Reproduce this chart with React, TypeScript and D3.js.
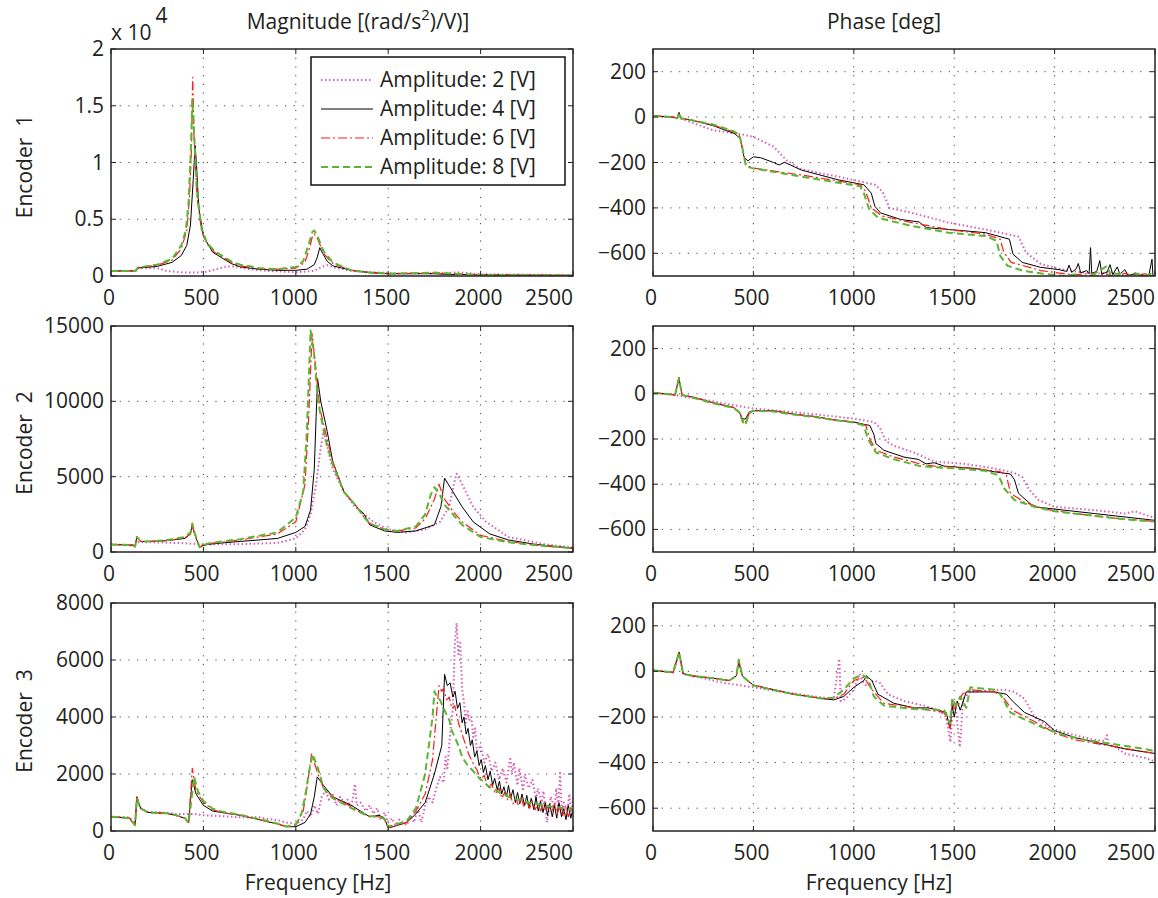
import React from 'react';
import * as d3 from 'd3';

type Pt = [number, number];

// ---------------- data ----------------
const LEGEND_LABELS = ['Amplitude: 2 [V]', 'Amplitude: 4 [V]', 'Amplitude: 6 [V]', 'Amplitude: 8 [V]'];
const X_TICKS = [0, 500, 1000, 1500, 2000, 2500];
const MAG1_TICKS = [0, 5000, 10000, 15000, 20000];
const MAG1_LABELS = ['0', '0.5', '1', '1.5', '2'];
const MAG2_TICKS = [0, 5000, 10000, 15000];
const MAG3_TICKS = [0, 2000, 4000, 6000, 8000];
const PHASE_TICKS = [-600, -400, -200, 0, 200];
const ROW_LABELS = ['Encoder  1', 'Encoder  2', 'Encoder  3'];

// Encoder 1 magnitude
const e1Mag2: Pt[] = [[0,450],[130,450],[140,700],[250,700],[300,450],[380,320],[450,300],[520,380],[580,650],[630,850],[680,820],[750,600],[850,450],[1000,330],[1100,450],[1140,800],[1170,950],[1210,750],[1300,450],[1500,250],[1750,250],[1880,320],[2000,160],[2500,80]];
const e1Mag4: Pt[] = [[0,450],[135,450],[145,700],[250,850],[330,1200],[380,1800],[410,2700],[430,4500],[445,8500],[455,11500],[462,10000],[475,6000],[500,3500],[550,2100],[600,1600],[650,1100],[700,800],[800,600],[900,500],[1000,500],[1060,600],[1100,1000],[1115,1600],[1130,2500],[1145,2000],[1170,1300],[1200,900],[1300,500],[1400,300],[1500,200],[1750,200],[1800,150],[2000,100],[2500,50]];
const e1Mag6: Pt[] = [[0,450],[135,450],[145,750],[250,950],[330,1400],[380,2400],[410,4000],[425,7000],[435,11000],[442,17500],[450,12000],[465,7000],[490,4000],[520,2800],[560,2100],[600,1700],[650,1200],[700,900],[800,650],[900,600],[1000,700],[1050,1200],[1075,2500],[1090,3500],[1100,3700],[1120,3200],[1150,2000],[1200,1100],[1300,500],[1400,300],[1500,200],[1750,250],[1850,200],[2000,100],[2500,50]];
const e1Mag8: Pt[] = [[0,450],[135,450],[145,750],[250,1000],[330,1500],[380,2700],[405,4000],[420,6500],[432,11000],[440,15500],[450,12500],[465,7500],[490,4200],[520,2900],[560,2200],[600,1800],[650,1300],[700,1000],[800,700],[900,600],[1000,800],[1040,1300],[1070,2800],[1090,3900],[1100,4000],[1120,3400],[1150,2200],[1200,1200],[1300,500],[1400,300],[1500,200],[1750,300],[1850,200],[2000,100],[2500,50]];

// Encoder 1 phase
const e1Ph2: Pt[] = [[0,5],[100,0],[150,-10],[300,-58],[435,-75],[500,-87],[600,-130],[665,-190],[738,-230],[921,-262],[1105,-298],[1142,-327],[1178,-400],[1289,-422],[1472,-465],[1656,-495],[1821,-527],[1857,-596],[1931,-647],[2023,-669],[2100,-680],[2200,-690],[2280,-684],[2350,-698],[2420,-690],[2500,-705]];
const e1Ph4: Pt[] = [[0,5],[100,0],[120,-5],[130,20],[140,-5],[200,-15],[300,-38],[407,-73],[435,-95],[453,-175],[472,-193],[500,-175],[536,-179],[600,-200],[628,-211],[655,-199],[738,-233],[921,-276],[1050,-298],[1087,-335],[1105,-393],[1133,-422],[1233,-451],[1325,-462],[1362,-487],[1472,-495],[1656,-509],[1775,-538],[1793,-604],[1839,-640],[1931,-662],[2023,-672],[2060,-680],[2072,-652],[2085,-684],[2108,-668],[2118,-645],[2130,-686],[2160,-676],[2172,-690],[2179,-575],[2185,-688],[2210,-680],[2225,-632],[2235,-692],[2262,-682],[2276,-650],[2290,-694],[2312,-660],[2325,-692],[2350,-672],[2365,-697],[2400,-690],[2440,-700],[2470,-694],[2485,-626],[2490,-700],[2500,-698]];
const e1Ph6: Pt[] = [[0,5],[100,0],[120,-5],[130,20],[140,-5],[200,-15],[300,-35],[400,-65],[430,-80],[444,-131],[463,-211],[500,-225],[738,-255],[1032,-298],[1059,-327],[1087,-400],[1142,-436],[1289,-465],[1472,-495],[1656,-516],[1729,-538],[1747,-596],[1784,-640],[1931,-676],[2023,-687],[2100,-695],[2150,-690],[2200,-702],[2250,-690],[2300,-703],[2350,-688],[2400,-700],[2450,-690],[2500,-702],[2520,-690]];
const e1Ph8: Pt[] = [[0,5],[100,0],[120,-5],[130,20],[140,-5],[200,-15],[300,-33],[400,-62],[430,-78],[444,-131],[463,-218],[500,-226],[738,-262],[1032,-305],[1050,-335],[1077,-407],[1123,-444],[1289,-480],[1472,-509],[1656,-524],[1711,-545],[1729,-611],[1766,-655],[1839,-676],[1949,-691],[2050,-700],[2100,-693],[2150,-703],[2200,-690],[2262,-655],[2280,-700],[2320,-688],[2360,-702],[2400,-686],[2440,-703],[2480,-690],[2500,-700]];

// Encoder 2 magnitude
const e2Mag2: Pt[] = [[0,500],[130,450],[145,650],[200,650],[300,620],[400,580],[500,500],[700,520],[900,600],[1000,900],[1050,1500],[1080,2500],[1110,4500],[1130,6500],[1150,8000],[1170,7000],[1200,5500],[1260,4000],[1320,3000],[1380,2400],[1420,2000],[1500,1500],[1600,1300],[1700,1500],[1780,2000],[1830,3000],[1855,4500],[1870,5200],[1900,4500],[1960,3000],[2030,2000],[2150,1000],[2350,500],[2500,300]];
const e2Mag4: Pt[] = [[0,500],[120,450],[130,350],[140,1000],[160,700],[200,700],[300,750],[400,900],[430,1200],[440,1800],[450,1300],[470,600],[480,350],[520,500],[600,600],[700,700],[900,900],[1000,1300],[1050,1700],[1080,2800],[1100,5500],[1110,9000],[1118,11500],[1135,10000],[1170,8000],[1200,6000],[1260,4000],[1330,3000],[1370,2500],[1400,1800],[1480,1400],[1550,1300],[1650,1400],[1750,1800],[1785,3000],[1805,4900],[1850,4000],[1900,3000],[1960,2000],[2050,1200],[2150,800],[2300,500],[2500,250]];
const e2Mag6: Pt[] = [[0,500],[120,450],[130,350],[140,1000],[160,700],[200,700],[300,750],[400,950],[430,1200],[440,1800],[450,1300],[470,600],[480,350],[520,550],[600,650],[700,800],[900,1200],[1000,2000],[1050,4500],[1070,9000],[1088,14500],[1110,12000],[1130,9500],[1170,7500],[1200,6000],[1260,4000],[1330,3000],[1370,2300],[1400,1900],[1480,1500],[1550,1400],[1650,1600],[1700,2200],[1750,3500],[1775,4500],[1800,3600],[1850,2700],[1900,2000],[2000,1100],[2150,700],[2300,450],[2500,250]];
const e2Mag8: Pt[] = [[0,500],[120,450],[130,350],[140,1000],[160,700],[200,700],[300,780],[400,1000],[430,1300],[440,1900],[450,1400],[470,600],[480,300],[520,550],[600,700],[700,850],[900,1300],[1000,2300],[1040,4000],[1060,8000],[1080,14700],[1100,13000],[1120,10000],[1160,7500],[1200,5800],[1260,4000],[1330,3000],[1370,2300],[1400,1900],[1480,1500],[1550,1400],[1650,1700],[1700,2500],[1730,3800],[1750,4300],[1780,3800],[1800,3200],[1900,1800],[2000,1000],[2150,650],[2300,450],[2500,250]];

// Encoder 2 phase
const e2Ph2: Pt[] = [[0,5],[110,-5],[150,-12],[250,-25],[400,-50],[500,-65],[800,-90],[1000,-110],[1100,-125],[1130,-150],[1160,-210],[1200,-230],[1300,-260],[1400,-300],[1550,-310],[1700,-330],[1800,-350],[1840,-370],[1870,-420],[1920,-470],[2000,-500],[2200,-515],[2350,-530],[2400,-520],[2500,-550]];
const e2Ph4: Pt[] = [[0,5],[110,-5],[129,72],[145,-5],[200,-15],[300,-40],[400,-60],[430,-80],[445,-110],[460,-112],[480,-80],[500,-75],[600,-75],[700,-90],[800,-100],[900,-115],[1000,-125],[1050,-135],[1080,-140],[1100,-180],[1110,-220],[1150,-250],[1250,-280],[1320,-290],[1360,-310],[1400,-305],[1450,-320],[1600,-330],[1700,-345],[1780,-355],[1800,-380],[1820,-440],[1870,-480],[1900,-500],[2000,-510],[2200,-530],[2400,-550],[2500,-560]];
const e2Ph6: Pt[] = [[0,5],[110,-5],[129,70],[145,-5],[200,-15],[300,-40],[400,-60],[430,-80],[445,-115],[460,-130],[480,-85],[500,-75],[600,-75],[700,-90],[800,-100],[900,-115],[1000,-125],[1060,-140],[1080,-200],[1110,-250],[1200,-280],[1330,-310],[1400,-320],[1600,-330],[1730,-345],[1760,-360],[1780,-440],[1850,-480],[1950,-510],[2100,-530],[2300,-550],[2500,-565]];
const e2Ph8: Pt[] = [[0,5],[110,-5],[129,68],[145,-5],[200,-18],[300,-42],[400,-62],[430,-82],[445,-120],[459,-139],[480,-85],[500,-75],[600,-78],[700,-92],[800,-102],[900,-116],[1000,-127],[1050,-140],[1070,-200],[1110,-260],[1200,-290],[1330,-320],[1500,-330],[1650,-340],[1720,-360],[1750,-420],[1800,-470],[1900,-500],[2000,-520],[2200,-540],[2400,-560],[2500,-565]];

// Encoder 3 magnitude
const e3Mag2: Pt[] = [[0,500],[100,480],[130,250],[140,1100],[160,800],[200,680],[300,640],[350,600],[450,600],[500,550],[600,520],[700,480],[800,480],[850,420],[900,380],[950,300],[1000,250],[1040,400],[1060,700],[1080,500],[1100,900],[1120,600],[1140,1200],[1160,1400],[1180,1100],[1200,1300],[1220,900],[1240,1200],[1260,1000],[1280,1100],[1300,800],[1320,1650],[1330,900],[1350,1000],[1380,700],[1400,900],[1420,600],[1440,800],[1460,400],[1480,650],[1500,300],[1520,450],[1540,200],[1560,400],[1580,300],[1600,200],[1620,500],[1640,300],[1660,800],[1680,300],[1700,900],[1720,1200],[1740,1000],[1760,1500],[1780,1900],[1800,1700],[1810,2600],[1820,2200],[1830,3000],[1840,3700],[1850,4300],[1860,6500],[1870,7300],[1880,6200],[1890,6600],[1900,5000],[1910,4500],[1920,3800],[1930,4200],[1940,3900],[1950,4000],[1960,3300],[1970,3600],[1980,2800],[2000,3000],[2020,2400],[2040,2700],[2060,2100],[2080,2400],[2100,1800],[2120,2200],[2140,1700],[2160,2600],[2170,2000],[2180,2400],[2200,1600],[2210,2200],[2230,1400],[2240,2000],[2260,1500],[2280,1800],[2300,1100],[2310,1500],[2330,1000],[2340,1400],[2360,300],[2380,1200],[2400,800],[2410,1500],[2420,700],[2430,2100],[2440,600],[2450,1000],[2470,700],[2480,1300],[2490,500],[2500,1200]];
const e3Mag4: Pt[] = [[0,500],[100,450],[130,200],[140,1200],[160,800],[200,650],[300,620],[350,550],[400,450],[420,300],[440,1800],[460,1300],[500,900],[550,700],[600,650],[700,550],[800,400],[900,250],[950,150],[1000,150],[1050,300],[1080,600],[1100,1200],[1116,1900],[1150,1600],[1200,1200],[1300,900],[1350,700],[1400,500],[1450,550],[1480,450],[1500,100],[1550,200],[1600,300],[1650,600],[1700,1000],[1750,2000],[1790,3000],[1805,5500],[1820,5100],[1835,5200],[1850,4700],[1862,4900],[1875,4300],[1888,4500],[1900,3800],[1910,4000],[1922,3400],[1932,3600],[1945,3000],[1955,3200],[1968,2600],[1980,2800],[1992,2300],[2004,2500],[2015,2050],[2026,2300],[2040,1800],[2052,2100],[2065,1600],[2076,1850],[2090,1450],[2102,1750],[2114,1300],[2126,1550],[2140,1200],[2151,1600],[2163,1150],[2175,1450],[2188,1000],[2200,1350],[2212,950],[2224,1300],[2238,900],[2250,1250],[2262,800],[2274,1150],[2288,750],[2300,1200],[2312,700],[2324,1050],[2338,650],[2350,1000],[2362,550],[2374,950],[2388,500],[2400,900],[2412,450],[2424,1000],[2438,500],[2450,800],[2462,400],[2474,900],[2488,450],[2500,750]];
const e3Mag6: Pt[] = [[0,500],[100,450],[130,200],[140,1200],[160,800],[200,650],[300,620],[350,550],[400,450],[420,300],[440,2200],[460,1400],[500,1000],[550,750],[600,650],[700,550],[800,400],[900,250],[950,150],[1000,200],[1040,700],[1060,1500],[1085,2700],[1120,2000],[1150,1500],[1200,1200],[1300,850],[1350,650],[1400,500],[1450,500],[1480,400],[1500,120],[1550,200],[1600,300],[1650,700],[1700,1300],[1740,2500],[1760,4000],[1775,5100],[1790,4900],[1800,5000],[1815,4600],[1830,4700],[1845,4300],[1860,4400],[1880,3800],[1900,3400],[1920,3000],[1935,2700],[1950,2500],[1965,2300],[1980,2150],[2000,1800],[2020,1950],[2040,1500],[2060,1650],[2080,1300],[2100,1500],[2115,1150],[2130,1350],[2145,1100],[2160,1300],[2175,950],[2190,1150],[2205,900],[2220,1150],[2235,850],[2250,1050],[2265,800],[2280,1050],[2295,750],[2310,950],[2325,700],[2340,1000],[2355,750],[2370,900],[2385,650],[2400,950],[2415,600],[2430,900],[2445,550],[2460,850],[2475,500],[2490,850],[2500,650]];
const e3Mag8: Pt[] = [[0,500],[100,450],[130,200],[140,1150],[160,800],[200,650],[300,620],[350,560],[400,450],[420,280],[450,1900],[470,1400],[500,1050],[550,780],[600,680],[700,560],[800,420],[900,260],[950,160],[1000,220],[1030,600],[1050,1200],[1070,2000],[1090,2700],[1120,2200],[1150,1500],[1200,1150],[1300,800],[1350,650],[1400,520],[1450,520],[1480,420],[1500,150],[1550,250],[1600,350],[1650,800],[1700,2000],[1740,4000],[1750,4900],[1765,4700],[1780,4600],[1800,4300],[1815,4100],[1830,3900],[1845,3500],[1860,3300],[1880,3000],[1900,2600],[1915,2450],[1930,2300],[1945,2200],[1960,2100],[1980,1950],[2000,1800],[2015,1750],[2030,1650],[2045,1550],[2060,1500],[2080,1450],[2100,1350],[2125,1300],[2150,1200],[2175,1150],[2200,1100],[2225,1100],[2250,1000],[2275,1000],[2300,950],[2325,920],[2350,900],[2375,860],[2400,850],[2425,820],[2450,800],[2475,760],[2500,720]];

// Encoder 3 phase
const e3Ph2: Pt[] = [[0,5],[100,-5],[130,80],[150,-12],[250,-30],[350,-50],[500,-70],[800,-110],[900,-120],[928,55],[935,-130],[960,-120],[1000,-80],[1030,-10],[1040,-40],[1060,-60],[1100,-40],[1130,-50],[1170,-100],[1250,-130],[1350,-150],[1420,-170],[1460,-200],[1481,-310],[1495,-130],[1510,-180],[1528,-332],[1545,-120],[1580,-90],[1750,-80],[1800,-90],[1850,-120],[1900,-200],[1980,-250],[2100,-280],[2200,-300],[2250,-305],[2260,-280],[2270,-320],[2300,-330],[2350,-360],[2400,-370],[2450,-380],[2500,-395]];
const e3Ph4: Pt[] = [[0,5],[100,-5],[130,85],[150,-10],[200,-20],[300,-30],[380,-40],[415,-20],[427,40],[445,-20],[470,-40],[500,-60],[600,-80],[700,-100],[850,-120],[900,-125],[950,-110],[1000,-70],[1050,-40],[1063,-19],[1090,-40],[1120,-100],[1200,-140],[1300,-160],[1370,-160],[1420,-170],[1460,-180],[1480,-250],[1490,-150],[1500,-200],[1515,-130],[1530,-170],[1560,-90],[1700,-90],[1760,-100],[1790,-130],[1850,-180],[1950,-220],[2000,-260],[2100,-290],[2200,-310],[2350,-340],[2500,-360]];
const e3Ph6: Pt[] = [[0,5],[100,-5],[130,85],[150,-10],[200,-20],[300,-30],[380,-40],[415,-20],[427,50],[445,-20],[470,-40],[500,-60],[600,-80],[700,-100],[850,-120],[900,-120],[950,-100],[1000,-40],[1050,-25],[1090,-80],[1150,-140],[1300,-160],[1450,-180],[1480,-250],[1490,-130],[1500,-160],[1520,-150],[1540,-100],[1580,-80],[1700,-90],[1740,-110],[1790,-170],[1900,-220],[2000,-270],[2100,-300],[2300,-330],[2500,-360]];
const e3Ph8: Pt[] = [[0,5],[100,-5],[130,85],[150,-10],[200,-20],[300,-30],[380,-40],[415,-20],[427,52],[445,-20],[470,-40],[500,-62],[600,-82],[700,-100],[850,-120],[900,-115],[950,-80],[1000,-30],[1040,-15],[1070,-30],[1100,-110],[1150,-150],[1300,-165],[1450,-170],[1480,-230],[1490,-120],[1510,-150],[1530,-110],[1560,-160],[1580,-70],[1700,-80],[1730,-100],[1780,-180],[1850,-210],[1950,-250],[2050,-280],[2150,-300],[2300,-320],[2450,-340],[2500,-350]];

// ---------------- styles ----------------
const SERIES_STYLE = [
  { color: '#d660b6', width: 2, dash: '1.5,2.5' },
  { color: '#000000', width: 1, dash: '' },
  { color: '#ff1a1a', width: 1.2, dash: '9,3,2,3' },
  { color: '#5cb531', width: 2, dash: '7,4' },
];

const FONT = '"Open Sans", "Noto Sans", sans-serif';
const FS = 21;

const LEFT_X: [number, number] = [111, 573];
const RIGHT_X: [number, number] = [653, 1155];
const ROWS: [number, number][] = [[49, 276], [326, 552], [603, 831]];

type PanelProps = {
  id: string;
  xr: [number, number];
  yr: [number, number];
  yDomain: [number, number];
  yTicks: number[];
  yLabels: string[];
  series: Pt[][];
};

function Panel({ id, xr, yr, yDomain, yTicks, yLabels, series }: PanelProps) {
  const x = d3.scaleLinear().domain([0, 2500]).range(xr);
  const y = d3.scaleLinear().domain(yDomain).range([yr[1], yr[0]]);
  const line = d3.line<Pt>().x((d) => x(d[0])).y((d) => y(d[1]));
  const tick = 5;
  return (
    <g>
      <defs>
        <clipPath id={id}>
          <rect x={xr[0]} y={yr[0]} width={xr[1] - xr[0]} height={yr[1] - yr[0]} />
        </clipPath>
      </defs>
      {X_TICKS.filter((t) => t > 0 && t < 2500).map((t) => (
        <line key={'gx' + t} x1={x(t)} x2={x(t)} y1={yr[0]} y2={yr[1]} stroke="#444" strokeWidth={1} strokeDasharray="1.2,7.5" />
      ))}
      {yTicks.filter((t) => t > yDomain[0] && t < yDomain[1]).map((t) => (
        <line key={'gy' + t} x1={xr[0]} x2={xr[1]} y1={y(t)} y2={y(t)} stroke="#444" strokeWidth={1} strokeDasharray="1.2,7.5" />
      ))}
      <g clipPath={`url(#${id})`}>
        {series.map((s, i) => (
          <path key={i} d={line(s) || ''} fill="none" stroke={SERIES_STYLE[i].color} strokeWidth={SERIES_STYLE[i].width} strokeDasharray={SERIES_STYLE[i].dash} strokeLinejoin="round" />
        ))}
      </g>
      {X_TICKS.map((t) => (
        <g key={'tx' + t}>
          <line x1={x(t)} x2={x(t)} y1={yr[1]} y2={yr[1] - tick} stroke="#222" />
          <line x1={x(t)} x2={x(t)} y1={yr[0]} y2={yr[0] + tick} stroke="#222" />
        </g>
      ))}
      {yTicks.map((t) => (
        <g key={'ty' + t}>
          <line x1={xr[0]} x2={xr[0] + tick} y1={y(t)} y2={y(t)} stroke="#222" />
          <line x1={xr[1]} x2={xr[1] - tick} y1={y(t)} y2={y(t)} stroke="#222" />
        </g>
      ))}
      <rect x={xr[0]} y={yr[0]} width={xr[1] - xr[0]} height={yr[1] - yr[0]} fill="none" stroke="#222" strokeWidth={1.5} />
      {X_TICKS.map((t) => (
        <text key={'lx' + t} x={t === 2500 ? xr[1] : x(t) - 2} y={yr[1] + 29} textAnchor={t === 2500 ? 'end' : 'middle'} fontSize={FS} fill="#231f20">{t}</text>
      ))}
      {yTicks.map((t, i) => (
        <text key={'ly' + t} x={xr[0] - 7} y={y(t) + 7} textAnchor="end" fontSize={FS} fill="#231f20">{yLabels[i]}</text>
      ))}
    </g>
  );
}

const phaseLabels = PHASE_TICKS.map((t) => (t < 0 ? '\u2212' + Math.abs(t) : String(t)));

export default function App() {
  const rowsLeft = [
    { yDomain: [0, 20000] as [number, number], yTicks: MAG1_TICKS, yLabels: MAG1_LABELS, series: [e1Mag2, e1Mag4, e1Mag6, e1Mag8] },
    { yDomain: [0, 15000] as [number, number], yTicks: MAG2_TICKS, yLabels: MAG2_TICKS.map(String), series: [e2Mag2, e2Mag4, e2Mag6, e2Mag8] },
    { yDomain: [0, 8000] as [number, number], yTicks: MAG3_TICKS, yLabels: MAG3_TICKS.map(String), series: [e3Mag2, e3Mag4, e3Mag6, e3Mag8] },
  ];
  const rowsRight = [[e1Ph2, e1Ph4, e1Ph6, e1Ph8], [e2Ph2, e2Ph4, e2Ph6, e2Ph8], [e3Ph2, e3Ph4, e3Ph6, e3Ph8]];
  const legendX = 311, legendY = 57, legendW = 254, legendH = 128;
  return (
    <div style={{ position: 'absolute', left: 0, top: 0 }}>
      <svg width={1158} height={898} style={{ display: 'block', fontFamily: FONT }}>
        <rect width={1158} height={898} fill="#fff" />
        {rowsLeft.map((r, i) => (
          <Panel key={'L' + i} id={'clipL' + i} xr={LEFT_X} yr={ROWS[i]} yDomain={r.yDomain} yTicks={r.yTicks} yLabels={r.yLabels} series={r.series} />
        ))}
        {rowsRight.map((s, i) => (
          <Panel key={'R' + i} id={'clipR' + i} xr={RIGHT_X} yr={ROWS[i]} yDomain={[-700, 300]} yTicks={PHASE_TICKS} yLabels={phaseLabels} series={s} />
        ))}
        {ROW_LABELS.map((l, i) => (
          <text key={l} transform={`translate(32,${(ROWS[i][0] + ROWS[i][1]) / 2 + 4}) rotate(-90)`} textAnchor="middle" fontSize={FS} fill="#231f20" style={{ whiteSpace: 'pre' }}>{l}</text>
        ))}
        <text x={358} y={29} textAnchor="middle" fontSize={FS} fill="#231f20">
          Magnitude [(rad/s<tspan dy={-9} fontSize={15}>2</tspan><tspan dy={9}>)/V)]</tspan>
        </text>
        <text x={884} y={29} textAnchor="middle" fontSize={FS} fill="#231f20">Phase [deg]</text>
        <text x={111} y={40} fontSize={FS} fill="#231f20">x 10<tspan dx={4} dy={-17} fontSize={FS}>4</tspan></text>
        <text x={318} y={890} textAnchor="middle" fontSize={FS} fill="#231f20">Frequency [Hz]</text>
        <text x={879} y={890} textAnchor="middle" fontSize={FS} fill="#231f20">Frequency [Hz]</text>
        <rect x={legendX} y={legendY} width={legendW} height={legendH} fill="#fff" stroke="#111" strokeWidth={1.5} />
        {LEGEND_LABELS.map((l, i) => {
          const yy = legendY + 23 + i * 29;
          return (
            <g key={l}>
              <line x1={legendX + 10} x2={legendX + 62} y1={yy} y2={yy} stroke={SERIES_STYLE[i].color} strokeWidth={SERIES_STYLE[i].width} strokeDasharray={SERIES_STYLE[i].dash} />
              <text x={legendX + 69} y={yy + 7} fontSize={FS} fill="#231f20">{l}</text>
            </g>
          );
        })}
      </svg>
    </div>
  );
}
